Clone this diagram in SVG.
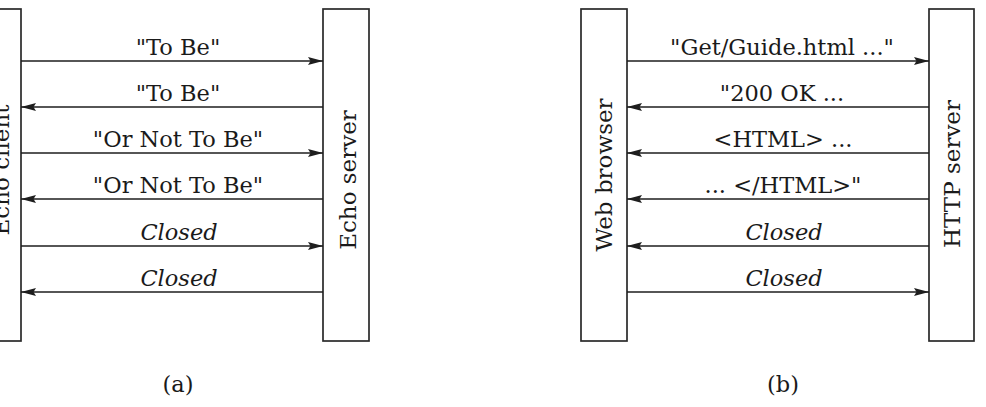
<svg xmlns="http://www.w3.org/2000/svg" width="986" height="407" viewBox="0 0 986 407">
<defs>
<style>
.box{fill:#fff;stroke:#2a2a2a;stroke-width:1.7}
.msg{stroke:#1e1e1e;stroke-width:1.7;fill:none;marker-end:url(#ah)}
.lbl{font-family:"DejaVu Serif","Liberation Serif",serif;font-size:22.5px;fill:#1a1a1a;text-anchor:middle}
.it{font-style:italic}
.side{font-family:"DejaVu Serif","Liberation Serif",serif;font-size:23px;fill:#1a1a1a;text-anchor:middle}
</style>
<marker id="ah" markerUnits="userSpaceOnUse" markerWidth="16" markerHeight="10" refX="15" refY="5" orient="auto">
<path d="M0,1 L15,5 L0,9 L2.5,5 z" fill="#1e1e1e"/>
</marker>
</defs>
<rect width="986" height="407" fill="#fff"/>
<g id="echo-client">
<rect class="box" x="-25" y="9" width="46" height="332"/>
<text class="side" transform="translate(9,170) rotate(-90)">Echo client</text>
</g>
<g id="echo-server">
<rect class="box" x="323" y="9" width="46" height="332"/>
<text class="side" transform="translate(356,180) rotate(-90)">Echo server</text>
</g>
<g id="web-browser">
<rect class="box" x="581" y="9" width="46" height="332"/>
<text class="side" transform="translate(612,175) rotate(-90)">Web browser</text>
</g>
<g id="http-server">
<rect class="box" x="929" y="9" width="45" height="332"/>
<text class="side" transform="translate(960,174) rotate(-90)">HTTP server</text>
</g>
<g id="connectors">
<line class="msg" x1="21" y1="61" x2="323" y2="61"/>
<line class="msg" x1="323" y1="107" x2="21" y2="107"/>
<line class="msg" x1="21" y1="153" x2="323" y2="153"/>
<line class="msg" x1="323" y1="199" x2="21" y2="199"/>
<line class="msg" x1="21" y1="246" x2="323" y2="246"/>
<line class="msg" x1="323" y1="292" x2="21" y2="292"/>
<line class="msg" x1="627" y1="61" x2="929" y2="61"/>
<line class="msg" x1="929" y1="107" x2="627" y2="107"/>
<line class="msg" x1="929" y1="153" x2="627" y2="153"/>
<line class="msg" x1="929" y1="199" x2="627" y2="199"/>
<line class="msg" x1="929" y1="246" x2="627" y2="246"/>
<line class="msg" x1="627" y1="292" x2="929" y2="292"/>
</g>
<g id="labels">
<text class="lbl" x="178" y="55">"To Be"</text>
<text class="lbl" x="178" y="101">"To Be"</text>
<text class="lbl" x="178" y="147">"Or Not To Be"</text>
<text class="lbl" x="178" y="193">"Or Not To Be"</text>
<text class="lbl it" x="179" y="240">Closed</text>
<text class="lbl it" x="179" y="286">Closed</text>
<text class="lbl" x="782" y="55">"Get/Guide.html ..."</text>
<text class="lbl" x="782" y="101">"200 OK ...</text>
<text class="lbl" x="783" y="147">&lt;HTML&gt; ...</text>
<text class="lbl" x="783" y="193">... &lt;/HTML&gt;"</text>
<text class="lbl it" x="784" y="240">Closed</text>
<text class="lbl it" x="784" y="286">Closed</text>
<text class="lbl" x="178" y="392">(a)</text>
<text class="lbl" x="783" y="392">(b)</text>
</g>
</svg>
